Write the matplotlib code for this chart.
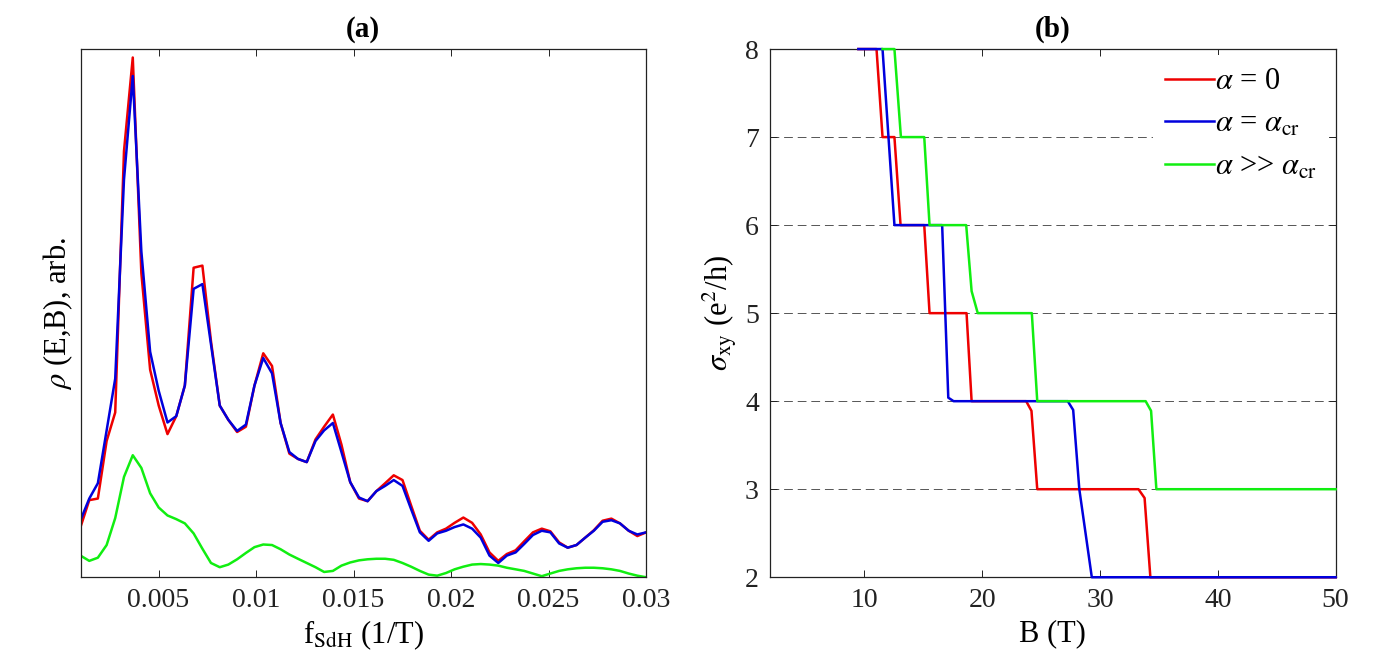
import matplotlib
matplotlib.use("Agg")
import matplotlib.pyplot as plt

plt.rcParams['font.family'] = ['Liberation Serif', 'DejaVu Serif']
plt.rcParams['mathtext.fontset'] = 'stix'
plt.rcParams['font.size'] = 21

# ---- panel (a): SdH spectrum ----
f_sdh = [0.00100, 0.00145, 0.00189, 0.00234, 0.00278, 0.00323, 0.00368, 0.00412,
         0.00457, 0.00501, 0.00546, 0.00591, 0.00635, 0.00680, 0.00725, 0.00769,
         0.00814, 0.00858, 0.00903, 0.00948, 0.00992, 0.01037, 0.01082, 0.01126,
         0.01171, 0.01215, 0.01260, 0.01305, 0.01349, 0.01394, 0.01438, 0.01483,
         0.01528, 0.01572, 0.01617, 0.01662, 0.01706, 0.01751, 0.01795, 0.01840,
         0.01885, 0.01929, 0.01974, 0.02018, 0.02063, 0.02108, 0.02152, 0.02197,
         0.02242, 0.02286, 0.02331, 0.02375, 0.02420, 0.02465, 0.02509, 0.02554,
         0.02598, 0.02643, 0.02688, 0.02732, 0.02777, 0.02822, 0.02866, 0.02911,
         0.02955, 0.03000]

rho_alpha0 = [0.095, 0.146, 0.149, 0.258, 0.312, 0.807, 0.984, 0.576, 0.393, 0.325,
              0.271, 0.305, 0.363, 0.586, 0.590, 0.447, 0.325, 0.298, 0.275, 0.285,
              0.363, 0.424, 0.400, 0.292, 0.234, 0.224, 0.218, 0.261, 0.285, 0.308,
              0.251, 0.180, 0.149, 0.144, 0.163, 0.178, 0.193, 0.184, 0.136, 0.088,
              0.071, 0.085, 0.092, 0.103, 0.113, 0.103, 0.081, 0.047, 0.031, 0.044,
              0.051, 0.068, 0.085, 0.092, 0.087, 0.066, 0.056, 0.061, 0.075, 0.089,
              0.107, 0.111, 0.102, 0.088, 0.078, 0.085]

rho_alpha_cr = [0.108, 0.149, 0.178, 0.278, 0.376, 0.753, 0.949, 0.617, 0.427, 0.353,
                0.293, 0.305, 0.363, 0.546, 0.555, 0.441, 0.325, 0.298, 0.277, 0.289,
                0.363, 0.415, 0.386, 0.292, 0.237, 0.224, 0.218, 0.258, 0.278, 0.292,
                0.237, 0.180, 0.151, 0.144, 0.163, 0.173, 0.184, 0.173, 0.129, 0.085,
                0.069, 0.083, 0.088, 0.095, 0.100, 0.092, 0.075, 0.041, 0.027, 0.041,
                0.047, 0.063, 0.080, 0.088, 0.085, 0.064, 0.056, 0.061, 0.075, 0.088,
                0.105, 0.108, 0.102, 0.088, 0.081, 0.085]

rho_alpha_big = [0.041, 0.031, 0.037, 0.061, 0.112, 0.190, 0.231, 0.207, 0.159, 0.132,
                 0.117, 0.110, 0.102, 0.083, 0.054, 0.027, 0.019, 0.024, 0.034, 0.046,
                 0.057, 0.062, 0.061, 0.053, 0.043, 0.035, 0.027, 0.019, 0.010, 0.012,
                 0.022, 0.028, 0.032, 0.034, 0.035, 0.035, 0.033, 0.027, 0.020, 0.012,
                 0.005, 0.003, 0.008, 0.015, 0.020, 0.024, 0.025, 0.024, 0.022, 0.018,
                 0.015, 0.012, 0.007, 0.002, 0.007, 0.012, 0.015, 0.017, 0.018, 0.018,
                 0.017, 0.015, 0.012, 0.007, 0.003, 0.000]

f_ticks = [0.005, 0.01, 0.015, 0.02, 0.025, 0.03]
f_ticklabels = ['0.005', '0.01', '0.015', '0.02', '0.025', '0.03']

# ---- panel (b): Hall conductivity steps ----
B_alpha0 = [9.5, 11.04, 11.55, 12.56, 13.08, 15.09, 15.54, 18.68, 19.11, 23.74,
            24.19, 24.68, 33.27, 33.79, 34.28, 50.0]
sxy_alpha0 = [8, 8, 7, 7, 6, 6, 5, 5, 4, 4, 3.89, 3, 3, 2.9, 2, 2]

B_alpha_cr = [9.5, 11.55, 12.56, 16.61, 17.13, 17.58, 27.27, 27.73, 28.25, 29.31, 50.0]
sxy_alpha_cr = [8, 8, 6, 6, 4.04, 4, 4, 3.9, 3, 2, 2]

B_alpha_big = [11.55, 12.56, 13.11, 15.09, 15.54, 18.65, 19.11, 19.63, 24.22, 24.68,
               33.88, 34.34, 34.79, 50.0]
sxy_alpha_big = [8, 8, 7, 7, 6, 6, 5.25, 5, 5, 4, 4, 3.89, 3, 3]

B_ticks = [10, 20, 30, 40, 50]
sxy_ticks = [2, 3, 4, 5, 6, 7, 8]

red = '#ee0000'
blue = '#0000dd'
green = '#11ee11'
lw = 1.8

fig = plt.figure(figsize=(14, 6.72), dpi=100)
ax1 = fig.add_axes([0.0575, 0.141, 0.404, 0.786])
ax2 = fig.add_axes([0.550, 0.141, 0.404, 0.786])

# panel (a)
ax1.plot(f_sdh, rho_alpha0, color=red, lw=lw)
ax1.plot(f_sdh, rho_alpha_cr, color=blue, lw=lw)
ax1.plot(f_sdh, rho_alpha_big, color=green, lw=lw)
ax1.set_xlim(0.001, 0.03)
ax1.set_ylim(0, 1.0)
ax1.set_xticks(f_ticks)
ax1.set_xticklabels(f_ticklabels)
ax1.set_yticks([])
ax1.set_xlabel(r'f$_{\mathrm{SdH}}$ (1/T)', fontsize=22)
ax1.set_ylabel(r'$\rho$ (E,B), arb.', fontsize=22)
ax1.set_title('(a)', fontweight='bold', fontsize=21, pad=9)

# panel (b)
ax2.plot(B_alpha0, sxy_alpha0, color=red, lw=lw, label=r'$\alpha$ = 0',
         zorder=3, clip_on=False)
ax2.plot(B_alpha_cr, sxy_alpha_cr, color=blue, lw=lw,
         label=r'$\alpha$ = $\alpha_{\mathrm{cr}}$', zorder=3, clip_on=False)
ax2.plot(B_alpha_big, sxy_alpha_big, color=green, lw=lw,
         label=r'$\alpha$ >> $\alpha_{\mathrm{cr}}$', zorder=3, clip_on=False)
ax2.set_xlim(2, 50)
ax2.set_ylim(2, 8)
ax2.set_xticks(B_ticks)
ax2.set_yticks(sxy_ticks)
ax2.yaxis.grid(True, color='#555555', lw=0.7, linestyle=(0, (9, 5)))
ax2.set_axisbelow(True)
ax2.set_xlabel('B (T)', fontsize=22)
ax2.set_ylabel(r'$\sigma_{\mathrm{xy}}$ (e$^2$/h)', fontsize=22)
ax2.set_title('(b)', fontweight='bold', fontsize=21, pad=9)
leg = ax2.legend(loc='upper right', frameon=True, fancybox=False, framealpha=1,
                 edgecolor='none', handlelength=1.6, handletextpad=0.05,
                 borderaxespad=0.2, labelspacing=0.45, fontsize=22)
leg.set_zorder(4)

for ax in (ax1, ax2):
    ax.tick_params(direction='in', top=True, right=True, length=5, width=0.7,
                   colors='#222222', labelcolor='#222222', pad=8, labelsize=20)
    for sp in ax.spines.values():
        sp.set_linewidth(0.9)
        sp.set_color('#222222')

fig.savefig('out.png', dpi=100)
